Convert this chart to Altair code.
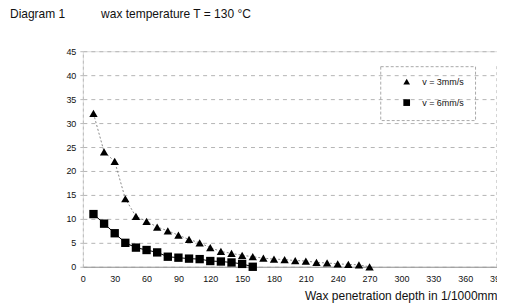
import altair as alt
import pandas as pd

# --- data ---
depth_v3 = [10, 20, 30, 40, 50, 60, 70, 80, 90, 100, 110, 120, 130, 140,
            150, 160, 170, 180, 190, 200, 210, 220, 230, 240, 250, 260, 270]
force_v3 = [32, 24, 22, 14.2, 10.5, 9.5, 8.3, 7.5, 6.6, 5.7, 5.0, 4.0, 3.2, 2.8,
            2.4, 2.1, 1.8, 1.6, 1.5, 1.3, 1.2, 0.9, 0.8, 0.6, 0.5, 0.4, 0.0]
depth_v6 = [10, 20, 30, 40, 50, 60, 70, 80, 90, 100, 110, 120, 130, 140, 150, 160]
force_v6 = [11, 9, 7, 5, 4, 3.5, 3, 2.1, 1.9, 1.7, 1.6, 1.2, 1.1, 0.9, 0.6, 0.0]
series_names = ["v = 3mm/s", "v = 6mm/s"]
x_ticks = list(range(0, 391, 30))
y_ticks = list(range(0, 46, 5))
title_text = "Diagram 1\u2003\u2003\u2003wax temperature T = 130 °C"
x_title = "Wax penetration depth in 1/1000mm"

df = pd.concat([
    pd.DataFrame({"depth": depth_v3, "value": force_v3, "series": series_names[0]}),
    pd.DataFrame({"depth": depth_v6, "value": force_v6, "series": series_names[1]}),
])

FONT = "Liberation Sans"

x_axis = alt.Axis(values=x_ticks, title=x_title, grid=False,
                  ticks=False, labelPadding=8, labelFontSize=9,
                  labelOverlap=False, labelFlush=False,
                  domainColor="#999", titleAnchor="end", titleY=33,
                  titleBaseline="alphabetic", titleFontSize=12,
                  titleFontWeight="normal")
y_axis = alt.Axis(values=y_ticks, title=None, grid=True,
                  gridDash=[4, 4], gridColor="#b5b5b5",
                  ticks=True, tickSize=3, tickColor="#bbb",
                  labelPadding=4, labelFontSize=9, labelOverlap=False,
                  domainColor="#bbb", domainDash=[3, 3])
x_scale = alt.Scale(domain=[0, 390], nice=False)
y_scale = alt.Scale(domain=[0, 45], nice=False)


def xe():
    return alt.X("depth:Q", scale=x_scale, axis=x_axis)


def ye():
    return alt.Y("value:Q", scale=y_scale, axis=y_axis)


base = alt.Chart(df)

line3 = base.transform_filter(alt.datum.series == series_names[0]).mark_line(
    strokeWidth=1, color="#8a8a8a", strokeDash=[2, 2]).encode(x=xe(), y=ye())
line6 = base.transform_filter(alt.datum.series == series_names[1]).mark_line(
    strokeWidth=1, color="#000000").encode(x=xe(), y=ye())

points = base.mark_point(filled=True, color="black", opacity=1, size=70).encode(
    x=xe(), y=ye(),
    shape=alt.Shape("series:N",
                    scale=alt.Scale(domain=series_names, range=["triangle-up", "square"]),
                    legend=alt.Legend(title=None, orient="none", legendX=298, legendY=15,
                                      padding=11, symbolOffset=11, rowPadding=8,
                                      labelFontSize=9, symbolSize=45,
                                      symbolFillColor="black", symbolStrokeColor="black",
                                      strokeColor="#aaa", labelOffset=11,
                                      labelExpr="datum.label + '\u2002\u2002'")),
)

border = alt.Chart(pd.DataFrame({"x": [390], "y0": [0], "y1": [42]})).mark_rule(
    color="#aaa", strokeDash=[3, 3], strokeWidth=1).encode(
    x=alt.X("x:Q", scale=x_scale, axis=x_axis),
    y=alt.Y("y0:Q", scale=y_scale, axis=y_axis),
    y2="y1:Q")

chart = alt.layer(line3, line6, points, border).properties(
    width=415, height=216,
    title=alt.TitleParams(text=title_text, anchor="start", frame="group",
                          dx=-73, offset=26, fontSize=12, fontWeight="normal",
                          font=FONT, color="#111"),
    autosize=alt.AutoSizeParams(type="none"),
    padding={"left": 75, "top": 43, "right": 0, "bottom": 37},
).configure_view(stroke=None).configure(
    font=FONT
).configure_axis(labelColor="#111", titleColor="#111", labelFont=FONT, titleFont=FONT,
                 labelOverlap=False
).configure_legend(strokeDash=[3, 2], labelFont=FONT, labelColor="#111")

chart.save("out.html", embed_options={"renderer": "svg", "actions": False})
